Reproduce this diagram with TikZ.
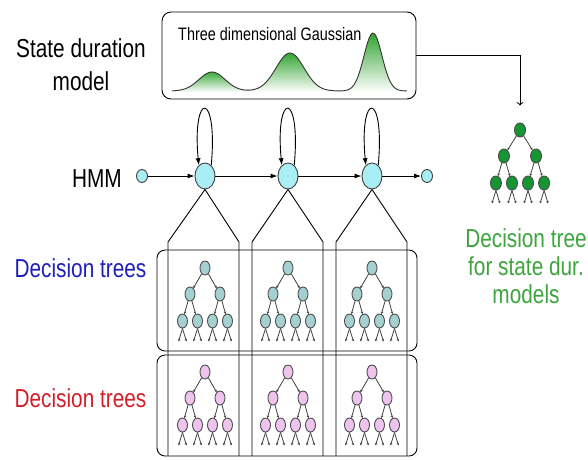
\documentclass[tikz,border=0pt]{standalone}
\usepackage{fontspec}
\usepackage{tikz}
\usetikzlibrary{shapes.geometric, arrows.meta}

\newfontfamily\lblfont{Liberation Sans}[FakeStretch=0.8]

\definecolor{stateblue}{RGB}{170,238,245}
\definecolor{tealnode}{RGB}{165,208,210}
\definecolor{pinknode}{RGB}{238,195,238}
\definecolor{treegreen}{RGB}{20,150,50}
\definecolor{gaussgreen}{RGB}{40,160,40}
\definecolor{labelblue}{RGB}{30,30,190}
\definecolor{labelred}{RGB}{210,30,40}
\definecolor{labelgreen}{RGB}{60,165,60}

% prefix, x, y, fill, spread
\newcommand{\dectree}[5]{%
  \node[tnode, fill=#4] (#1r) at (#2,#3) {};
  \node[tnode, fill=#4] (#1a) at (#2-15*#5, #3+26) {};
  \node[tnode, fill=#4] (#1b) at (#2+15*#5, #3+26) {};
  \draw[tedge] (#1r) -- (#1a);
  \draw[tedge] (#1r) -- (#1b);
  \foreach \k/\p/\dx in {1/a/-22.5, 2/a/-7.5, 3/b/7.5, 4/b/22.5} {
    \node[tnode, fill=#4] (#1\k) at (#2+\dx*#5, #3+53) {};
    \draw[tedge] (#1\p) -- (#1\k);
    \draw[tedge] (#1\k.south) -- ++(-4,13);
    \draw[tedge] (#1\k.south) -- ++(4,13);
  }%
}

\begin{document}
\begin{tikzpicture}[x=1pt, y=-1pt,
    state/.style={ellipse, draw=black!75, line width=0.9pt, fill=stateblue,
      minimum width=20pt, minimum height=26pt, inner sep=0pt},
    endstate/.style={state, minimum width=11pt, minimum height=13pt},
    tnode/.style={ellipse, draw=black!70, line width=0.9pt,
      minimum width=10pt, minimum height=14pt, inner sep=0pt},
    tedge/.style={draw=black!75, line width=0.8pt, -{Stealth[length=2.5pt,width=2.5pt]}},
    hmmarrow/.style={line width=0.9pt, -{Latex[length=7pt,width=5pt]}},
    biglabel/.style={font=\lblfont\fontsize{26}{33}\selectfont, inner sep=0pt, align=center},
    declare function={gss(\x,\m,\s)=exp(-((\x-\m)/\s)^2/2);
      dur(\x)=91-19*gss(\x,212,13)-38*gss(\x,290,14)-58*gss(\x,373,9);}]
    \useasboundingbox (0,0) rectangle (588,459);

    % state duration model
    \node[draw, rounded corners=9pt, line width=0.9pt, minimum width=254pt,
      minimum height=87pt] (durbox) at (289,55.5) {};
    \node[anchor=base west, inner sep=0pt, font=\lblfont\fontsize{18}{22}\selectfont]
      (gausslbl) at (178,40) {Three dimensional Gaussian};
    \begin{scope}
        \clip plot[domain=172:407, samples=150] (\x,{dur(\x)}) -- (407,92) -- (172,92) -- cycle;
        \shade[top color=gaussgreen, bottom color=white] (172,70) rectangle (251,92);
        \shade[top color=gaussgreen, bottom color=white] (251,51) rectangle (331,92);
        \shade[top color=gaussgreen, bottom color=white] (331,31) rectangle (407,92);
    \end{scope}
    \draw[line width=0.9pt, black!80] plot[domain=172:407, samples=150] (\x,{dur(\x)});
    \node[biglabel, anchor=north] (durlbl) at (81,38) {State duration\\model};

    % HMM
    \node[biglabel, anchor=base east] (hmmlbl) at (122,187) {HMM};
    \node[endstate] (sin) at (142,176) {};
    \node[state] (s1) at (205,176) {};
    \node[state] (s2) at (288,176) {};
    \node[state] (s3) at (372,176) {};
    \node[endstate] (sout) at (427,176) {};
    \draw[hmmarrow] (sin) -- (s1);
    \draw[hmmarrow] (s1) -- (s2);
    \draw[hmmarrow] (s2) -- (s3);
    \draw[hmmarrow] (s3) -- (sout);
    \foreach \i in {1,2,3}
        \draw[hmmarrow] (s\i.60) .. controls +(7,-75) and +(-7,-75) .. (s\i.120);

    % decision trees
    \draw[rounded corners=8pt, line width=0.9pt] (157,250) rectangle (417,351);
    \draw[rounded corners=8pt, line width=0.9pt] (157,355) rectangle (417,456);
    \foreach \i/\l/\r in {1/168/239, 2/252/323, 3/336/407} {
        \coordinate (tl\i) at (\l,242);
        \coordinate (tr\i) at (\r,242);
        \draw[line width=0.9pt] (\l,456) -- (tl\i) -- (s\i.south) -- (tr\i) -- (\r,456);
    }
    \foreach \i/\x in {1/205, 2/288, 3/372} {
        \dectree{u\i}{\x}{268}{tealnode}{1}
        \dectree{v\i}{\x}{372}{pinknode}{1}
    }
    \node[biglabel, anchor=base, labelblue] (bluelbl) at (80.5,277) {Decision trees};
    \node[biglabel, anchor=base, labelred] (redlbl) at (80.5,407) {Decision trees};

    % tree for state duration models
    \begin{scope}[tnode/.append style={minimum width=11pt, minimum height=14pt}]
        \dectree{g}{520}{130}{treegreen}{1.07}
    \end{scope}
    \draw[->, line width=0.8pt, shorten >=17pt] (durbox.east) -| (gr.north);
    \node[biglabel, anchor=north, labelgreen, font=\lblfont\fontsize{26}{28}\selectfont]
      (greenlbl) at (526,228) {Decision tree\\for state dur.\\models};
\end{tikzpicture}
\end{document}
